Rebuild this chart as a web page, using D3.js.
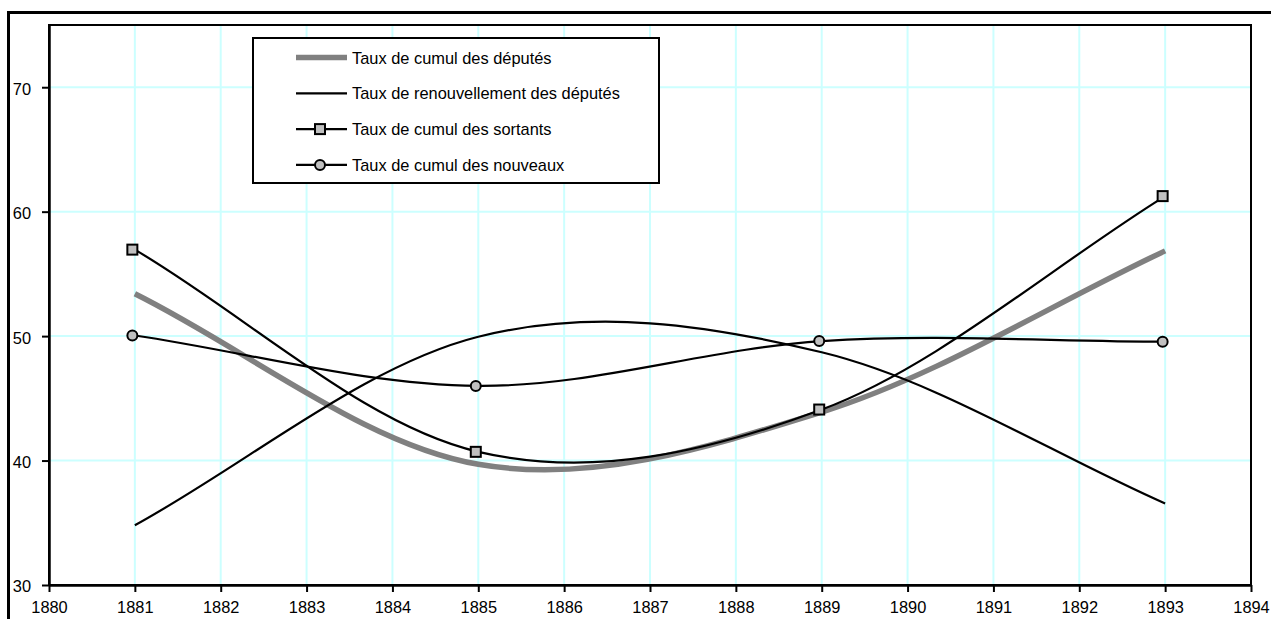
<!DOCTYPE html>
<html>
<head>
<meta charset="utf-8">
<script src="https://cdn.jsdelivr.net/npm/d3@7"></script>
<style>
  html, body { margin: 0; padding: 0; background: #fff; }
  svg { display: block; }
  text { font-family: "Liberation Sans", Arial, Helvetica, sans-serif; fill: #000; }
</style>
</head>
<body>
<svg id="chart" width="1271" height="619"></svg>
<script>
// ---- Data ----
const years = [1881, 1885, 1889, 1893];
const cumulDeputes   = [53.4, 39.7, 43.9, 56.85];
const renouvellement = [34.8, 49.95, 48.7, 36.55];
const cumulSortants  = [56.95, 40.7, 44.1, 61.25];
const cumulNouveaux  = [50.05, 46.0, 49.6, 49.55];
const xTickValues = [1880, 1881, 1882, 1883, 1884, 1885, 1886, 1887, 1888, 1889, 1890, 1891, 1892, 1893, 1894];
const yTickValues = [30, 40, 50, 60, 70];
const legendLabels = [
  "Taux de cumul des députés",
  "Taux de renouvellement des députés",
  "Taux de cumul des sortants",
  "Taux de cumul des nouveaux"
];

// ---- Excel-like smoothed curve ----
function ExcelSmooth(context) { this._context = context; }
ExcelSmooth.prototype = {
  areaStart() { this._line = 0; },
  areaEnd() { this._line = NaN; },
  lineStart() { this._pts = []; },
  point(x, y) { this._pts.push([+x, +y]); },
  lineEnd() {
    const p = this._pts, c = this._context, n = p.length;
    if (!n) return;
    c.moveTo(p[0][0], p[0][1]);
    if (n === 2) { c.lineTo(p[1][0], p[1][1]); return; }
    for (let i = 0; i < n - 1; i++) {
      const a = p[i], b = p[i + 1];
      let c1, c2;
      if (i === 0) c1 = [a[0] + (b[0] - a[0]) / 3, a[1] + (b[1] - a[1]) / 3];
      else { const pr = p[i - 1]; c1 = [a[0] + (b[0] - pr[0]) / 6, a[1] + (b[1] - pr[1]) / 6]; }
      if (i + 1 === n - 1) c2 = [b[0] - (b[0] - a[0]) / 3, b[1] - (b[1] - a[1]) / 3];
      else { const nx = p[i + 2]; c2 = [b[0] - (nx[0] - a[0]) / 6, b[1] - (nx[1] - a[1]) / 6]; }
      c.bezierCurveTo(c1[0], c1[1], c2[0], c2[1], b[0], b[1]);
    }
  }
};
const curveExcel = ctx => new ExcelSmooth(ctx);

// ---- Layout ----
const svg = d3.select("#chart");
const L = 49, R = 1251, T = 25, B = 585;
const FS = 16.4;
const x = d3.scaleLinear().domain([1880, 1894]).range([L, R]);
const y = d3.scaleLinear().domain([30, 75]).range([B, T]);

// outer frame (cropped)
svg.append("path").attr("d", `M8.5,619 L8.5,12.5 L1271,12.5`)
  .attr("fill", "none").attr("stroke", "#000").attr("stroke-width", 3);

// gridlines
const grid = svg.append("g");
grid.selectAll("line.v").data(xTickValues.slice(1, -1)).join("line")
  .attr("x1", d => x(d)).attr("x2", d => x(d)).attr("y1", T).attr("y2", B)
  .attr("stroke", "#ccffff").attr("stroke-width", 2);
grid.selectAll("line.h").data(yTickValues.slice(1)).join("line")
  .attr("x1", L).attr("x2", R).attr("y1", d => y(d)).attr("y2", d => y(d))
  .attr("stroke", "#ccffff").attr("stroke-width", 2);

// plot frame
svg.append("rect").attr("x", L).attr("y", T).attr("width", R - L).attr("height", B - T)
  .attr("fill", "none").attr("stroke", "#000").attr("stroke-width", 2);

// axes
const xAxis = d3.axisBottom(x).tickValues(xTickValues).tickFormat(d3.format("d"))
  .tickSizeInner(7).tickSizeOuter(0).tickPadding(9);
const gx = svg.append("g").attr("transform", `translate(0,${B})`).call(xAxis);
gx.select(".domain").attr("stroke-width", 2.5);
gx.selectAll(".tick line").attr("stroke-width", 2);
gx.selectAll(".tick text").attr("font-size", FS).attr("dy", "0.71em")
  .style("font-family", '"Liberation Sans", Arial, sans-serif');

const yAxis = d3.axisLeft(y).tickValues(yTickValues).tickSizeInner(7).tickSizeOuter(0).tickPadding(11);
const gy = svg.append("g").attr("transform", `translate(${L},0)`).call(yAxis);
gy.select(".domain").attr("stroke-width", 2.5);
gy.selectAll(".tick line").attr("stroke-width", 2);
gy.selectAll(".tick text").attr("font-size", FS).attr("dy", "0.42em")
  .style("font-family", '"Liberation Sans", Arial, sans-serif');

// series
const series = [
  { name: legendLabels[0], values: cumulDeputes, color: "#808080", width: 5.5, marker: null },
  { name: legendLabels[1], values: renouvellement, color: "#000", width: 2.2, marker: null },
  { name: legendLabels[2], values: cumulSortants, color: "#000", width: 2.2, marker: "square" },
  { name: legendLabels[3], values: cumulNouveaux, color: "#000", width: 2.2, marker: "circle" }
];
const line = d3.line().x(d => x(d[0])).y(d => y(d[1])).curve(curveExcel);
const plot = svg.append("g");
series.forEach(s => {
  const pts = years.map((yr, i) => [yr, s.values[i]]);
  plot.append("path").attr("d", line(pts)).attr("fill", "none")
    .attr("stroke", s.color).attr("stroke-width", s.width)
    .attr("stroke-linejoin", "round");
});
function drawMarker(g, type, cx, cy) {
  if (type === "square") {
    g.append("rect").attr("x", cx - 5).attr("y", cy - 5).attr("width", 10).attr("height", 10)
      .attr("fill", "#c0c0c0").attr("stroke", "#000").attr("stroke-width", 2);
  } else if (type === "circle") {
    g.append("circle").attr("cx", cx).attr("cy", cy).attr("r", 5)
      .attr("fill", "#c0c0c0").attr("stroke", "#000").attr("stroke-width", 2);
  }
}
series.filter(s => s.marker).forEach(s => {
  years.forEach((yr, i) => drawMarker(plot, s.marker, x(yr) - 2.5, y(s.values[i])));
});

// legend
const lg = svg.append("g");
lg.append("rect").attr("x", 253).attr("y", 38).attr("width", 406).attr("height", 145)
  .attr("fill", "#fff").attr("stroke", "#000").attr("stroke-width", 2);
series.forEach((s, i) => {
  const base = 63.5 + i * 35.8;
  const ly = base - 6;
  lg.append("line").attr("x1", 296).attr("x2", 347).attr("y1", ly).attr("y2", ly)
    .attr("stroke", s.color).attr("stroke-width", s.width);
  if (s.marker) drawMarker(lg, s.marker, 320, ly);
  lg.append("text").attr("x", 352).attr("y", base).attr("font-size", FS).text(s.name);
});
</script>
</body>
</html>
